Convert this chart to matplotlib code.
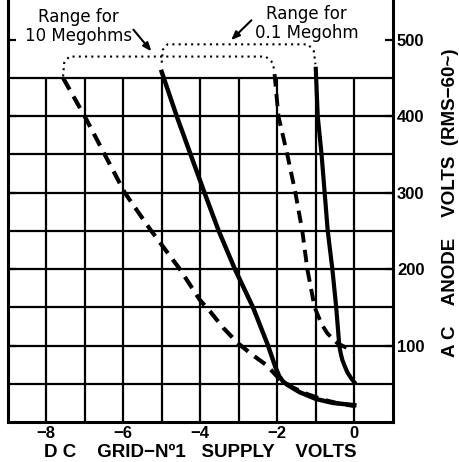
import matplotlib
matplotlib.use("Agg")
import matplotlib.pyplot as plt

# ---- data ----
x_ticks = [-8, -6, -4, -2, 0]
x_tick_labels = ["\u22128", "\u22126", "\u22124", "\u22122", "0"]
y_ticks = [100, 200, 300, 400, 500]
y_tick_labels = ["100", "200", "300", "400", "500"]

# 10 Megohm range - dashed (left)
dash_l_x = [-7.56, -7.0, -6.48, -5.96, -5.3, -4.53, -4.0, -3.75, -3.4, -3.02, -2.65, -2.27, -1.94, -1.6, -1.2, -0.8, -0.4, 0.0]
dash_l_y = [450, 400, 350, 300, 252, 200, 159, 145, 123, 103, 88, 74, 56, 45, 36, 29, 24, 21]
# 10 Megohm range - solid (left)
sol_l_x = [-5.0, -4.61, -4.25, -3.89, -3.52, -3.1, -2.63, -2.24, -2.05, -1.95, -1.85, -1.72, -1.42, -0.99, -0.56, 0.0]
sol_l_y = [458, 400, 350, 300, 250, 200, 150, 100, 72, 60, 53, 48, 39, 30, 25, 22]
# 0.1 Megohm range - dashed (right)
dash_r_x = [-2.07, -1.97, -1.74, -1.53, -1.35, -1.22, -1.03, -0.85, -0.7, -0.44, -0.2, 0.0]
dash_r_y = [455, 400, 350, 300, 250, 200, 150, 128, 116, 103, 97, 93]
# 0.1 Megohm range - solid (right)
sol_r_x = [-1.0, -0.95, -0.85, -0.77, -0.69, -0.57, -0.47, -0.39, -0.35, -0.31, -0.24, -0.18, -0.08, 0.0]
sol_r_y = [462, 400, 350, 300, 250, 200, 150, 100, 89, 81, 72, 65, 57, 52]

# dotted range brackets
brk_low_x = [-7.56, -7.53, -7.4, -2.3, -2.12, -2.07]
brk_low_y = [452, 470, 478, 478, 470, 458]
brk_up_x = [-5.0, -4.97, -4.85, -1.2, -1.05, -1.01]
brk_up_y = [470, 487, 494, 494, 485, 468]

xlabel = "D C    GRID\u2212N\u00ba1   SUPPLY    VOLTS"
ylabel = "A C    ANODE    VOLTS  (RMS\u221260~)"

fig = plt.figure(figsize=(4.6, 4.62), dpi=100)
ax = fig.add_axes([0.0165, 0.0866, 0.8375, 0.9134])
ax.set_xlim(-9, 1)
ax.set_ylim(0, 552)

# grid (only up to 450)
for gx in range(-8, 1):
    ax.plot([gx, gx], [0, 450], color="black", lw=1.6, solid_capstyle="butt", zorder=1)
for gy in range(50, 451, 50):
    ax.plot([-9, 1], [gy, gy], color="black", lw=1.6, solid_capstyle="butt", zorder=1)

ax.plot(dash_l_x, dash_l_y, color="black", lw=3, linestyle=(0, (3.2, 1.9)),
        zorder=3, dash_capstyle="butt")
ax.plot(sol_l_x, sol_l_y, color="black", lw=3.2, zorder=3, solid_joinstyle="round")
ax.plot(dash_r_x, dash_r_y, color="black", lw=2.8, linestyle=(0, (3.2, 1.9)),
        zorder=3, dash_capstyle="butt")
ax.plot(sol_r_x, sol_r_y, color="black", lw=3, zorder=3, solid_joinstyle="round")

ax.plot(brk_low_x, brk_low_y, color="black", lw=1.5, linestyle=(0, (1, 2)), zorder=2)
ax.plot(brk_up_x, brk_up_y, color="black", lw=1.5, linestyle=(0, (1, 2)), zorder=2)

txtkw = dict(fontsize=12, ha="center", va="center", family="DejaVu Sans")
ax.text(-7.15, 517, "Range for\n10 Megohms", linespacing=1.05, **txtkw)
ax.text(-1.24, 521, "Range for\n0.1 Megohm", linespacing=1.05, **txtkw)
ax.annotate("", xy=(-5.22, 482), xytext=(-5.78, 516),
            arrowprops=dict(arrowstyle="-|>,head_length=0.5,head_width=0.2", color="black", lw=1.5))
ax.annotate("", xy=(-3.25, 497), xytext=(-2.62, 528),
            arrowprops=dict(arrowstyle="-|>,head_length=0.5,head_width=0.2", color="black", lw=1.5))

# spines
ax.spines["top"].set_visible(False)
for s in ["left", "right", "bottom"]:
    ax.spines[s].set_linewidth(2.2)

numfont = dict(family="Liberation Sans", fontsize=12, fontweight="bold")
ax.set_xticks(x_ticks)
ax.set_xticklabels(x_tick_labels, **numfont)
ax.tick_params(axis="x", length=0, pad=3)
ax.set_yticks(y_ticks)
ax.set_yticklabels(y_tick_labels, **numfont)
ax.yaxis.set_ticks_position("both")
ax.tick_params(axis="y", direction="in", length=6, width=1.6,
               labelleft=False, labelright=True, pad=3)

labfont = dict(family="Liberation Sans", fontsize=13.5, fontweight="bold")
ax.set_xlabel(xlabel, labelpad=2, **labfont)
ax.yaxis.set_label_position("right")
ax.set_ylabel(ylabel, rotation=90, **labfont)
ax.yaxis.label.set_verticalalignment("center")
ax.yaxis.set_label_coords(1.15, 0.52)

fig.savefig("out.png", dpi=100)
